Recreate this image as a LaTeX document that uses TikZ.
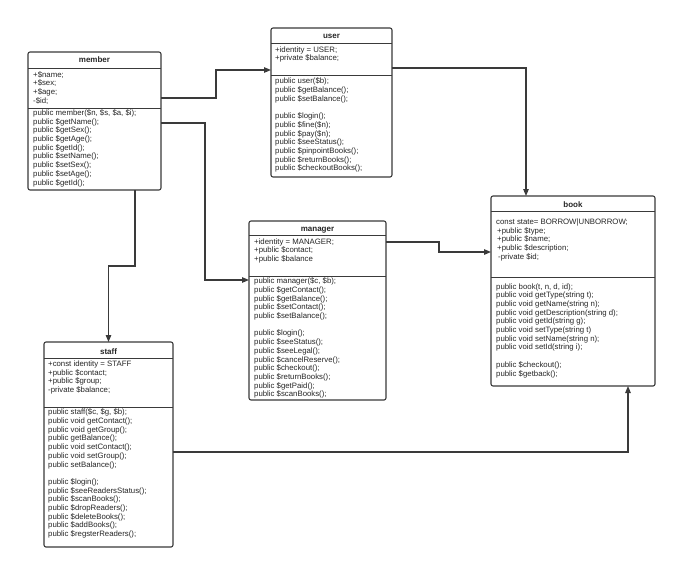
\documentclass[tikz,border=0pt]{standalone}
\usepackage{fontspec}
\setmainfont{Liberation Sans}
\usetikzlibrary{arrows.meta}
\definecolor{linec}{HTML}{3A3A3A}
\definecolor{txtc}{HTML}{262626}
\tikzset{
  classbox/.style={draw=linec, line width=1.1pt, rounded corners=2pt, fill=white, inner sep=0pt, outer sep=0pt, anchor=north west},
  sepline/.style={draw=linec, line width=1pt},
  ttl/.style={font=\fontsize{8}{9}\selectfont\bfseries, text=txtc, anchor=base, inner sep=0pt},
  body/.style={font=\fontsize{7.8}{8.7}\selectfont, text=txtc, align=left, anchor=north west, inner sep=0pt},
  conn/.style={draw=linec, line width=1.1pt, -{Triangle[length=7pt,width=5.5pt]}},
}
\begin{document}
\begin{tikzpicture}[x=1pt,y=-1pt]
\fill[white] (0,0) rectangle (675,566);
\useasboundingbox (0,0) rectangle (675,566);

% member
\node[classbox, minimum width=133pt, minimum height=138pt] (member) at (28,52) {};
\node[ttl] (memberT) at (94.5,62.5) {member};
\draw[sepline] (member.west |- 0,68) -- (member.east |- 0,68);
\draw[sepline] (member.west |- 0,108) -- (member.east |- 0,108);
\node[body] (memberA) at (33,71.2) {+\$name;\\+\$sex;\\+\$age;\\-\$id;};
\node[body] (memberM) at (33,109.5) {public member(\$n, \$s, \$a, \$i);\\public \$getName();\\public \$getSex();\\public \$getAge();\\public \$getId();\\public \$setName();\\public \$setSex();\\public \$setAge();\\public \$getId();};

% user
\node[classbox, minimum width=121pt, minimum height=149pt] (user) at (271,28) {};
\node[ttl] (userT) at (331.5,38) {user};
\draw[sepline] (user.west |- 0,43) -- (user.east |- 0,43);
\draw[sepline] (user.west |- 0,75) -- (user.east |- 0,75);
\node[body] (userA) at (275,46.2) {+identity = USER;\\+private \$balance;};
\node[body] (userM) at (275,77.9) {public user(\$b);\\public \$getBalance();\\public \$setBalance();\\[8.7pt]public \$login();\\public \$fine(\$n);\\public \$pay(\$n);\\public \$seeStatus();\\public \$pinpointBooks();\\public \$returnBooks();\\public \$checkoutBooks();};

% manager
\node[classbox, minimum width=137pt, minimum height=179pt] (manager) at (249,221) {};
\node[ttl] (managerT) at (317.5,231) {manager};
\draw[sepline] (manager.west |- 0,235) -- (manager.east |- 0,235);
\draw[sepline] (manager.west |- 0,276) -- (manager.east |- 0,276);
\node[body] (managerA) at (254,238.2) {+identity = MANAGER;\\+public \$contact;\\+public \$balance};
\node[body] (managerM) at (254,277.8) {public manager(\$c, \$b);\\public \$getContact();\\public \$getBalance();\\public \$setContact();\\public \$setBalance();\\[8.7pt]public \$login();\\public \$seeStatus();\\public \$seeLegal();\\public \$cancelReserve();\\public \$checkout();\\public \$returnBooks();\\public \$getPaid();\\public \$scanBooks();};

% staff
\node[classbox, minimum width=129pt, minimum height=205pt] (staff) at (44,342) {};
\node[ttl] (staffT) at (108.5,354) {staff};
\draw[sepline] (staff.west |- 0,358) -- (staff.east |- 0,358);
\draw[sepline] (staff.west |- 0,407) -- (staff.east |- 0,407);
\node[body] (staffA) at (48,360.5) {+const identity = STAFF\\+public \$contact;\\+public \$group;\\-private \$balance;};
\node[body] (staffM) at (48,408.9) {public staff(\$c, \$g, \$b);\\public void getContact();\\public void getGroup();\\public getBalance();\\public void setContact();\\public void setGroup();\\public setBalance();\\[8.7pt]public \$login();\\public \$seeReadersStatus();\\public \$scanBooks();\\public \$dropReaders();\\public \$deleteBooks();\\public \$addBooks();\\public \$regsterReaders();};

% book
\node[classbox, minimum width=164pt, minimum height=190pt] (book) at (491,196) {};
\node[ttl] (bookT) at (573,207) {book};
\draw[sepline] (book.west |- 0,211) -- (book.east |- 0,211);
\draw[sepline] (book.west |- 0,277) -- (book.east |- 0,277);
\node[body] (bookA) at (496,218.5) {const state= BORROW|UNBORROW;\\\hspace{1pt}+public \$type;\\\hspace{1pt}+public \$name;\\\hspace{1pt}+public \$description;\\\hspace{2pt}-private \$id;};
\node[body] (bookM) at (496,283.2) {public book(t, n, d, id);\\public void getType(string t);\\public void getName(string n);\\public void getDescription(string d);\\public void getId(string g);\\public void setType(string t)\\public void setName(string n);\\public void setId(string i);\\[8.7pt]public \$checkout();\\public \$getback();};

% connectors
\draw[conn] (member.east |- 0,98) -| (216,70) -- (user.west |- 0,70);
\draw[conn] (member.east |- 0,123) -| (205,280) -- (manager.west |- 0,280);
\draw[conn] (member.south -| 135,0) |- (108.5,266) -- (staff.north);
\draw[conn] (user.east |- 0,68) -| (book.north -| 526,0);
\draw[conn] (manager.east |- 0,242) -| (439,252) -- (book.west |- 0,252);
\draw[conn] (staff.east |- 0,452) -| (book.south -| 628,0);
\end{tikzpicture}
\end{document}
